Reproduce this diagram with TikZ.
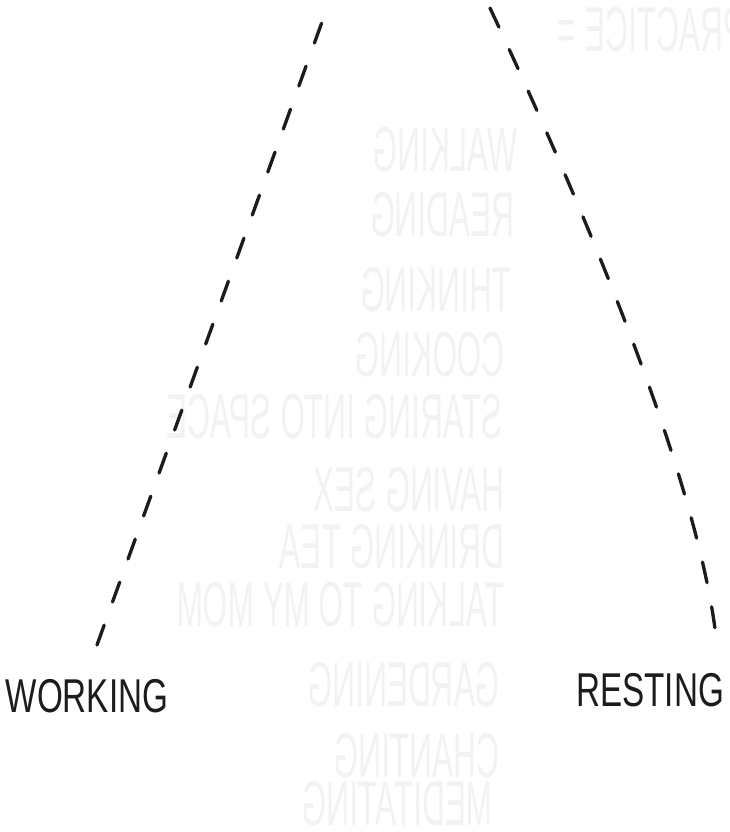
\documentclass[tikz,border=0pt]{standalone}
\usepackage{fontspec}
\setmainfont{Liberation Sans}
\usepackage{xcolor}
\definecolor{ink}{RGB}{28, 28, 30}
\definecolor{bleed}{RGB}{241, 242, 244}

\begin{document}
\begin{tikzpicture}[
        x = 0.01cm, y = -0.01cm, % pixel grid, y downwards
        line cap = round,
        font=\fontsize{13.5}{13.5}\selectfont
    ]
        \tikzstyle{dashline}=[
            draw = ink,
            line width = 0.95pt,
            dash pattern = on 6pt off 7pt,
        ]
        \tikzstyle{label}=[
            text = ink,
            xscale = 0.7,
            inner sep = 0pt,
        ]
        \tikzstyle{faint}=[
            text = bleed,
            font = \fontsize{18}{18}\selectfont,
            xscale = -0.5, % seen through the paper
            anchor = west,
            inner sep = 0pt,
        ]
        \useasboundingbox (0,0) rectangle (730,832);

        % text from the back of the sheet
        \node[faint] (practice) at (745,30) {PRACTICE =};
        \node[faint] (walking) at (518,150) {WALKING};
        \node[faint] (reading) at (515,215) {READING};
        \node[faint] (thinking) at (512,290) {THINKING};
        \node[faint] (cooking) at (505,355) {COOKING};
        \node[faint] (staring) at (503,417) {STARING INTO SPACE};
        \node[faint] (sex) at (505,490) {HAVING SEX};
        \node[faint] (tea) at (505,547) {DRINKING TEA};
        \node[faint] (mom) at (505,605) {TALKING TO MY MOM};
        \node[faint] (garden) at (500,685) {GARDENING};
        \node[faint] (chant) at (500,756) {CHANTING};
        \node[faint] (meditate) at (493,804) {MEDITATING};

        % the two ends
        \node[label] (working) at (87,696) {WORKING};
        \node[label] (resting) at (650,690) {RESTING};

        \coordinate (wtop) at (322,22);
        \coordinate (wbot) at (97,645);
        \coordinate (rtop) at (490,8);
        \coordinate (rbot) at (717,645);

        \draw[dashline] (wbot) -- (wtop);
        \draw[dashline] (rtop) .. controls (580,200) and (700,480) .. (rbot);
    \end{tikzpicture}
\end{document}
